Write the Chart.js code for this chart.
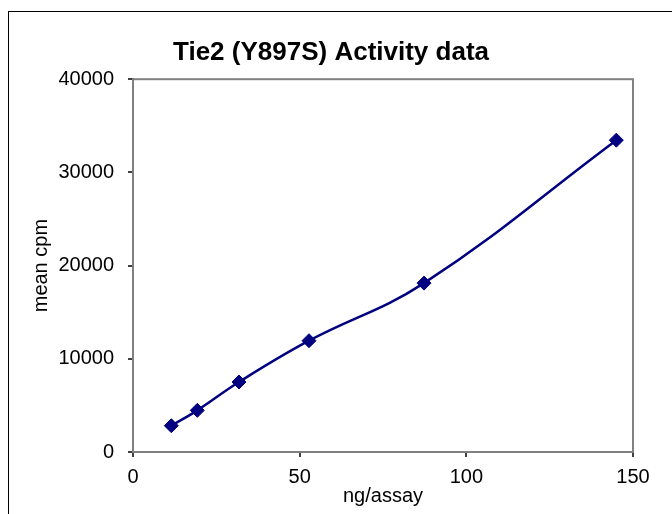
<!DOCTYPE html>
<html>
<head>
<meta charset="utf-8">
<script src="https://cdn.jsdelivr.net/npm/chart.js@4"></script>
<style>
  html, body { margin: 0; padding: 0; background: #fff; }
  #wrap { position: relative; width: 672px; height: 514px; }
  #frame { position: absolute; left: 8px; top: 11px; width: 700px; height: 600px; border: 1px solid #000; box-sizing: border-box; pointer-events: none; }
</style>
</head>
<body>
<div id="wrap">
  <canvas id="c" width="672" height="514"></canvas>
  <div id="frame"></div>
</div>
<script>
const chartTitle = "Tie2 (Y897S) Activity data";
const xTitle = "ng/assay";
const yTitle = "mean cpm";
const ngPerAssay = [11.5, 19.3, 31.8, 52.8, 87.3, 145];
const meanCpm = [2820, 4470, 7510, 11940, 18120, 33460];
const xTicks = [0, 50, 100, 150];
const yTicks = [0, 10000, 20000, 30000, 40000];

const points = ngPerAssay.map((x, i) => ({ x: x, y: meanCpm[i] }));

const frameBorder = {
  id: 'frameBorder',
  beforeDatasetsDraw(chart) {
    const a = chart.chartArea, ctx = chart.ctx;
    ctx.save();
    ctx.strokeStyle = '#808080';
    ctx.lineWidth = 2;
    ctx.strokeRect(a.left, a.top, a.right - a.left, a.bottom - a.top);
    ctx.restore();
  }
};

const FONT = 'Liberation Sans, Arial';

new Chart(document.getElementById('c'), {
  type: 'scatter',
  data: {
    datasets: [{
      data: points,
      showLine: true,
      borderColor: '#000080',
      backgroundColor: '#000080',
      borderWidth: 2.5,
      tension: 0.4,
      pointStyle: 'rectRot',
      pointRadius: 7,
      pointHoverRadius: 7,
      pointBorderWidth: 1,
      clip: false
    }]
  },
  options: {
    responsive: false,
    animation: false,
    events: [],
    layout: { padding: { left: 29, right: 39, top: 0, bottom: 0 } },
    plugins: {
      legend: { display: false },
      tooltip: { enabled: false },
      title: {
        display: true,
        text: chartTitle,
        color: '#000',
        font: { family: FONT, size: 26, weight: 'bold' },
        padding: { top: 37, bottom: 11 }
      }
    },
    scales: {
      x: {
        type: 'linear',
        min: 0, max: 150,
        afterBuildTicks: s => { s.ticks = xTicks.map(v => ({ value: v })); },
        afterFit: s => { s.height = 62; },
        grid: { display: true, drawOnChartArea: false, drawTicks: true, tickLength: 5, color: '#404040', lineWidth: 2 },
        border: { display: true, color: '#404040', width: 2 },
        ticks: { color: '#000', font: { family: FONT, size: 20 }, padding: 8, maxRotation: 0 },
        title: { display: true, text: xTitle, color: '#000', font: { family: FONT, size: 20 }, padding: { top: 0, bottom: 6 } }
      },
      y: {
        type: 'linear',
        min: 0, max: 40000,
        afterBuildTicks: s => { s.ticks = yTicks.map(v => ({ value: v })); },
        afterFit: s => { s.width = 104; },
        grid: { display: true, drawOnChartArea: false, drawTicks: true, tickLength: 5, color: '#404040', lineWidth: 2 },
        border: { display: true, color: '#404040', width: 2 },
        ticks: { color: '#000', font: { family: FONT, size: 20 }, padding: 14, callback: v => String(v) },
        title: { display: true, text: yTitle, color: '#000', font: { family: FONT, size: 20 }, padding: { top: 0, bottom: 0 } }
      }
    }
  },
  plugins: [frameBorder]
});
</script>
</body>
</html>
